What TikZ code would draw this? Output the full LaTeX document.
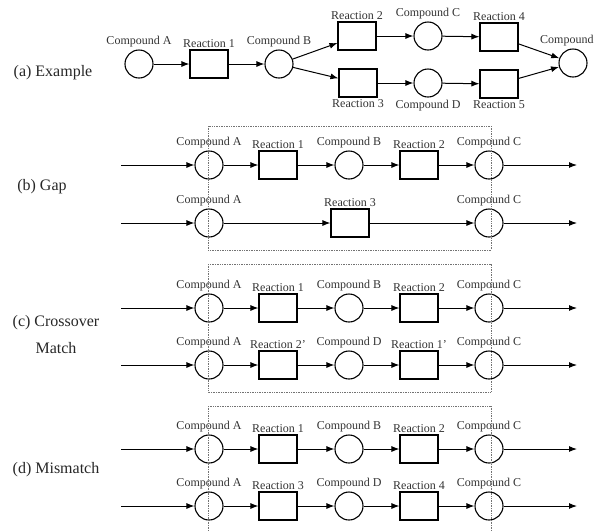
\documentclass[tikz,border=0pt]{standalone}
\usepackage{fontspec}
\setmainfont{Liberation Serif}
\usetikzlibrary{arrows.meta}

\begin{document}
\begin{tikzpicture}[x=1pt, y=-1pt,
  cmp/.style={circle, draw, line width=1.1pt, minimum size=28pt, inner sep=0pt},
  rxn/.style={rectangle, draw, line width=1.1pt, minimum width=38pt, minimum height=28pt, inner sep=0pt},
  lbl/.style={font=\rmfamily\fontsize{12}{14}\selectfont, text=black!80, inner sep=2pt},
  side/.style={font=\rmfamily\fontsize{16}{27}\selectfont, text=black!85, align=center},
  arr/.style={line width=1pt, -{Latex[length=8pt,width=6pt]}},
  frame/.style={draw=black!55, densely dotted, line width=0.7pt}]
	\useasboundingbox (0,0) rectangle (595,531);
	\node[side] (la) at (53,73) {(a) Example};
	\node[side] (lb) at (42,187) {(b) Gap};
	\node[side] (lc) at (56,335) {(c) Crossover\\Match};
	\node[side] (ld) at (56,470) {(d) Mismatch};
	\node[cmp, label={[lbl]above:Compound A}] (aA) at (139,64) {};
	\node[rxn, label={[lbl]above:Reaction 1}] (aR1) at (209,64) {};
	\node[cmp, label={[lbl]above:Compound B}] (aB) at (279,64) {};
	\node[rxn, label={[lbl]above:Reaction 2}] (aR2) at (357,36) {};
	\node[cmp, label={[lbl]above:Compound C}] (aC) at (428,36) {};
	\node[rxn, label={[lbl]above:Reaction 4}] (aR4) at (499,37) {};
	\node[rxn, label={[lbl]below:Reaction 3}] (aR3) at (358,83) {};
	\node[cmp, label={[lbl]below:Compound D}] (aD) at (428,83) {};
	\node[rxn, label={[lbl]below:Reaction 5}] (aR5) at (499,84) {};
	\node[cmp] (aE) at (573,63) {};
	\node[lbl, anchor=west] (aEl) at (538,41) {Compound};
	\draw[arr] (aA) -- (aR1);
	\draw[arr] (aR1) -- (aB);
	\draw[arr] (aB) -- (aR2);
	\draw[arr] (aB) -- (aR3);
	\draw[arr] (aR2) -- (aC);
	\draw[arr] (aC) -- (aR4);
	\draw[arr] (aR3) -- (aD);
	\draw[arr] (aD) -- (aR5);
	\draw[arr] (aR4) -- (aE);
	\draw[arr] (aR5) -- (aE);
	\coordinate (bin1) at (121,165);
	\coordinate (bout1) at (577,165);
	\node[cmp, label={[lbl]above:Compound A}] (bA1) at (209,165) {};
	\node[rxn, label={[lbl]above:Reaction 1}] (bR1) at (278,165) {};
	\node[cmp, label={[lbl]above:Compound B}] (bB) at (349,165) {};
	\node[rxn, label={[lbl]above:Reaction 2}] (bR2) at (419,165) {};
	\node[cmp, label={[lbl]above:Compound C}] (bC1) at (489,165) {};
	\draw[arr] (bin1) -- (bA1);
	\draw[arr] (bA1) -- (bR1);
	\draw[arr] (bR1) -- (bB);
	\draw[arr] (bB) -- (bR2);
	\draw[arr] (bR2) -- (bC1);
	\draw[arr] (bC1) -- (bout1);
	\coordinate (bin2) at (121,223);
	\coordinate (bout2) at (577,223);
	\node[cmp, label={[lbl]above:Compound A}] (bA2) at (209,223) {};
	\node[rxn, label={[lbl]above:Reaction 3}] (bR3) at (350,223) {};
	\node[cmp, label={[lbl]above:Compound C}] (bC2) at (489,223) {};
	\draw[arr] (bin2) -- (bA2);
	\draw[arr] (bA2) -- (bR3);
	\draw[arr] (bR3) -- (bC2);
	\draw[arr] (bC2) -- (bout2);
	\draw[frame] (208,126) rectangle (491,250);
	\coordinate (cin1) at (121,308);
	\coordinate (cout1) at (577,308);
	\node[cmp, label={[lbl]above:Compound A}] (cA1) at (209,308) {};
	\node[rxn, label={[lbl]above:Reaction 1}] (cR1) at (278,308) {};
	\node[cmp, label={[lbl]above:Compound B}] (cB) at (349,308) {};
	\node[rxn, label={[lbl]above:Reaction 2}] (cR2) at (419,308) {};
	\node[cmp, label={[lbl]above:Compound C}] (cC1) at (489,308) {};
	\draw[arr] (cin1) -- (cA1);
	\draw[arr] (cA1) -- (cR1);
	\draw[arr] (cR1) -- (cB);
	\draw[arr] (cB) -- (cR2);
	\draw[arr] (cR2) -- (cC1);
	\draw[arr] (cC1) -- (cout1);
	\coordinate (cin2) at (121,365);
	\coordinate (cout2) at (577,365);
	\node[cmp, label={[lbl]above:Compound A}] (cA2) at (209,365) {};
	\node[rxn, label={[lbl]above:Reaction 2'}] (cR2p) at (278,365) {};
	\node[cmp, label={[lbl]above:Compound D}] (cD) at (349,365) {};
	\node[rxn, label={[lbl]above:Reaction 1'}] (cR1p) at (419,365) {};
	\node[cmp, label={[lbl]above:Compound C}] (cC2) at (489,365) {};
	\draw[arr] (cin2) -- (cA2);
	\draw[arr] (cA2) -- (cR2p);
	\draw[arr] (cR2p) -- (cD);
	\draw[arr] (cD) -- (cR1p);
	\draw[arr] (cR1p) -- (cC2);
	\draw[arr] (cC2) -- (cout2);
	\draw[frame] (208,264) rectangle (491,392);
	\coordinate (din1) at (121,449);
	\coordinate (dout1) at (577,449);
	\node[cmp, label={[lbl]above:Compound A}] (dA1) at (209,449) {};
	\node[rxn, label={[lbl]above:Reaction 1}] (dR1) at (278,449) {};
	\node[cmp, label={[lbl]above:Compound B}] (dB) at (349,449) {};
	\node[rxn, label={[lbl]above:Reaction 2}] (dR2) at (419,449) {};
	\node[cmp, label={[lbl]above:Compound C}] (dC1) at (489,449) {};
	\draw[arr] (din1) -- (dA1);
	\draw[arr] (dA1) -- (dR1);
	\draw[arr] (dR1) -- (dB);
	\draw[arr] (dB) -- (dR2);
	\draw[arr] (dR2) -- (dC1);
	\draw[arr] (dC1) -- (dout1);
	\coordinate (din2) at (121,506);
	\coordinate (dout2) at (577,506);
	\node[cmp, label={[lbl]above:Compound A}] (dA2) at (209,506) {};
	\node[rxn, label={[lbl]above:Reaction 3}] (dR3) at (278,506) {};
	\node[cmp, label={[lbl]above:Compound D}] (dD) at (349,506) {};
	\node[rxn, label={[lbl]above:Reaction 4}] (dR4) at (419,506) {};
	\node[cmp, label={[lbl]above:Compound C}] (dC2) at (489,506) {};
	\draw[arr] (din2) -- (dA2);
	\draw[arr] (dA2) -- (dR3);
	\draw[arr] (dR3) -- (dD);
	\draw[arr] (dD) -- (dR4);
	\draw[arr] (dR4) -- (dC2);
	\draw[arr] (dC2) -- (dout2);
	\draw[frame] (208,406) -- (491,406);
	\draw[frame] (208,406) -- (208,531);
	\draw[frame] (491,406) -- (491,531);
\end{tikzpicture}
\end{document}
